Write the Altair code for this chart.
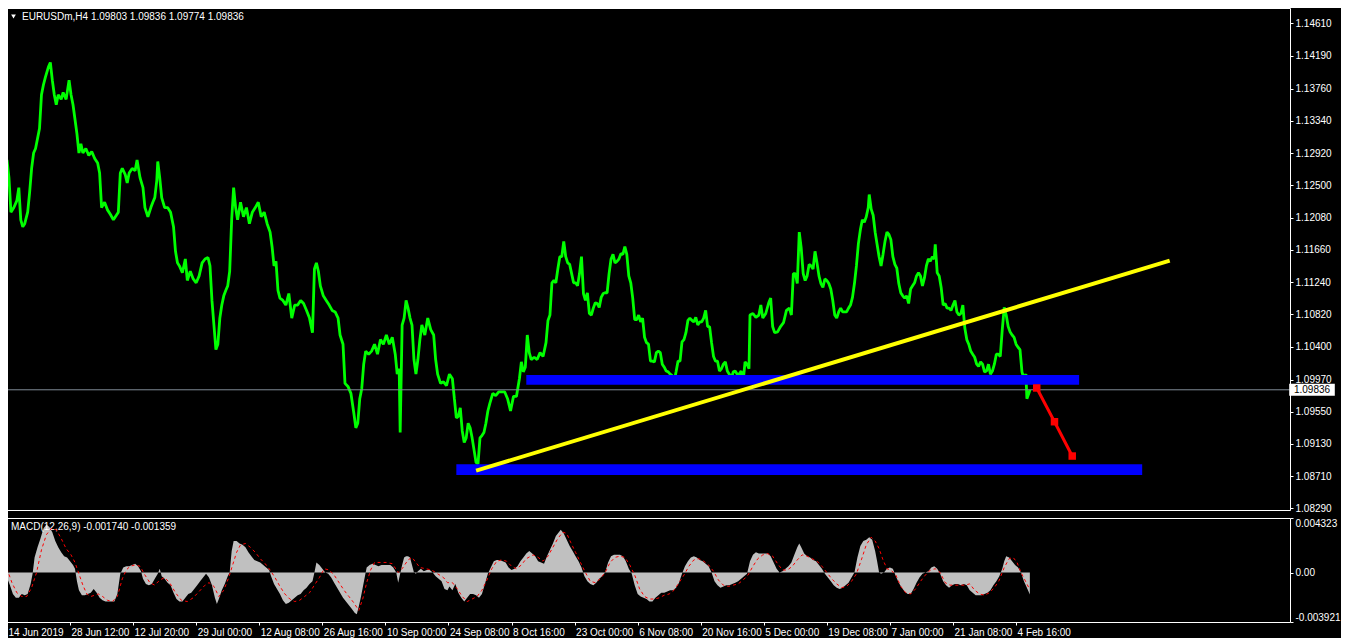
import altair as alt
import pandas as pd

# ---------------- texts ----------------
HEADER = "EURUSDm,H4  1.09803 1.09836 1.09774 1.09836"
MACD_HEADER = "MACD(12,26,9) -0.001740 -0.001359"
CURRENT_PRICE = 1.09836
CURRENT_LABEL = "1.09836"

# ---------------- axes ----------------
PRICE_TICKS = [1.08290, 1.08710, 1.09130, 1.09550, 1.09970, 1.10400, 1.10820, 1.11240,
               1.11660, 1.12080, 1.12500, 1.12920, 1.13340, 1.13760, 1.14190, 1.14610]
MACD_TICKS = [-0.003921, 0.0, 0.004323]
DATE_TICKS = [3, 67, 131, 195, 259, 323, 387, 451, 515, 579, 643, 707, 771, 835, 899, 963, 1027]
DATE_LABELS = ["14 Jun 2019", "28 Jun 12:00", "12 Jul 20:00", "29 Jul 00:00", "12 Aug 08:00",
               "26 Aug 16:00", "10 Sep 00:00", "24 Sep 08:00", "8 Oct 16:00", "23 Oct 00:00",
               "6 Nov 08:00", "20 Nov 16:00", "5 Dec 00:00", "19 Dec 08:00", "7 Jan 00:00",
               "21 Jan 08:00", "4 Feb 16:00"]
BAR_DOMAIN = [2, 1305]
PRICE_DOMAIN = [1.0827, 1.1481]
MACD_DOMAIN = [-0.003921, 0.004323]

# ---------------- drawings ----------------
ZONE_START = [530, 459]
ZONE_END = [1091, 1155]
ZONE_TOP = [1.10029, 1.08867]
ZONE_BOTTOM = [1.09902, 1.08727]

TREND_BAR = [481, 1181]
TREND_PRICE = [1.08790, 1.11511]

FORECAST_BAR = [1048, 1066, 1084]
FORECAST_PRICE = [1.09860, 1.09420, 1.08973]

# ---------------- price (bar, close) ----------------
PRICE_TRACE = [
    (3, 1.1283), (5, 1.1260), (7, 1.1215), (10, 1.1221), (13, 1.1230), (15, 1.1247), (17, 1.1205), (19, 1.1196), (21, 1.1200), (24, 1.1215),
    (26, 1.1241), (28, 1.1272), (30, 1.1292), (32, 1.1298), (34, 1.1311), (36, 1.1324), (38, 1.1368), (40, 1.1381), (42, 1.1391), (45, 1.1404),
    (47, 1.1410), (49, 1.1387), (51, 1.1368), (53, 1.1355), (55, 1.1368), (58, 1.1362), (60, 1.1371), (63, 1.1362), (66, 1.1387), (68, 1.1368),
    (70, 1.1355), (72, 1.1336), (74, 1.1317), (76, 1.1292), (78, 1.1304), (80, 1.1292), (83, 1.1298), (86, 1.1289), (89, 1.1294), (92, 1.1285),
    (95, 1.1279), (97, 1.1266), (99, 1.1221), (102, 1.1228), (105, 1.1218), (108, 1.1212), (111, 1.1205), (113, 1.1209), (116, 1.1215), (118, 1.1266),
    (120, 1.1272), (123, 1.1264), (125, 1.1253), (127, 1.1266), (130, 1.1272), (133, 1.1269), (135, 1.1283), (138, 1.1260), (141, 1.1247), (143, 1.1221),
    (146, 1.1209), (149, 1.1221), (151, 1.1228), (153, 1.1234), (155, 1.1256), (156, 1.1281), (158, 1.1260), (160, 1.1234), (163, 1.1221), (166, 1.1221),
    (169, 1.1215), (172, 1.1196), (174, 1.1164), (176, 1.1149), (178, 1.1145), (181, 1.1136), (184, 1.1154), (186, 1.1126), (189, 1.1138), (192, 1.1128),
    (195, 1.1123), (198, 1.1132), (201, 1.1149), (204, 1.1154), (207, 1.1156), (209, 1.1145), (211, 1.1100), (213, 1.1068), (215, 1.1036), (217, 1.1043),
    (219, 1.1077), (221, 1.1094), (223, 1.1106), (225, 1.1113), (227, 1.1119), (229, 1.1138), (231, 1.1205), (233, 1.1247), (235, 1.1221), (237, 1.1205),
    (240, 1.1228), (243, 1.1209), (246, 1.1221), (249, 1.1200), (252, 1.1215), (255, 1.1221), (258, 1.1228), (261, 1.1209), (264, 1.1215), (267, 1.1200),
    (270, 1.1189), (272, 1.1170), (274, 1.1145), (276, 1.1151), (278, 1.1113), (280, 1.1103), (283, 1.1100), (286, 1.1094), (289, 1.1109), (292, 1.1077),
    (295, 1.1094), (298, 1.1094), (301, 1.1100), (304, 1.1096), (307, 1.1087), (310, 1.1077), (313, 1.1058), (315, 1.1141), (317, 1.1149), (319, 1.1138),
    (321, 1.1119), (324, 1.1106), (327, 1.1100), (330, 1.1094), (333, 1.1087), (336, 1.1085), (339, 1.1077), (341, 1.1055), (344, 1.1043), (346, 1.0992),
    (349, 1.0988), (352, 1.0979), (355, 1.0953), (357, 1.0934), (359, 1.0940), (361, 1.0972), (363, 1.0985), (365, 1.1017), (367, 1.1034), (370, 1.1030),
    (373, 1.1034), (376, 1.1043), (379, 1.1030), (382, 1.1049), (385, 1.1043), (388, 1.1055), (391, 1.1043), (394, 1.1052), (397, 1.1030), (399, 1.1004),
    (401, 1.1011), (402, 1.0928), (404, 1.1068), (406, 1.1077), (408, 1.1100), (410, 1.1090), (412, 1.1077), (414, 1.1068), (416, 1.1023), (418, 1.1004),
    (420, 1.1023), (422, 1.1049), (424, 1.1068), (427, 1.1055), (430, 1.1077), (433, 1.1062), (436, 1.1055), (438, 1.1023), (440, 1.1004), (443, 1.0992),
    (446, 1.0994), (449, 1.0989), (452, 1.1004), (455, 1.0998), (457, 1.0972), (459, 1.0947), (461, 1.0949), (463, 1.0960), (465, 1.0930), (467, 1.0915),
    (469, 1.0921), (471, 1.0940), (473, 1.0934), (475, 1.0921), (477, 1.0905), (479, 1.0889), (481, 1.0887), (483, 1.0921), (485, 1.0924), (487, 1.0928),
    (489, 1.0940), (491, 1.0956), (493, 1.0966), (496, 1.0979), (499, 1.0976), (502, 1.0981), (505, 1.0981), (508, 1.0981), (511, 1.0972), (514, 1.0956),
    (517, 1.0975), (520, 1.0975), (523, 1.0998), (525, 1.1020), (527, 1.1007), (529, 1.1013), (531, 1.1055), (533, 1.1032), (535, 1.1023), (538, 1.1026),
    (541, 1.1023), (544, 1.1032), (547, 1.1027), (550, 1.1045), (552, 1.1074), (554, 1.1081), (556, 1.1123), (558, 1.1126), (560, 1.1123), (562, 1.1141),
    (564, 1.1157), (566, 1.1157), (568, 1.1177), (570, 1.1157), (572, 1.1149), (574, 1.1147), (576, 1.1135), (578, 1.1123), (580, 1.1123), (582, 1.1119),
    (584, 1.1135), (586, 1.1157), (588, 1.1109), (590, 1.1100), (592, 1.1110), (594, 1.1083), (596, 1.1081), (598, 1.1090), (600, 1.1097), (602, 1.1096),
    (604, 1.1091), (606, 1.1104), (608, 1.1109), (610, 1.1110), (612, 1.1110), (614, 1.1135), (616, 1.1154), (618, 1.1160), (620, 1.1149), (622, 1.1151),
    (624, 1.1154), (626, 1.1161), (628, 1.1160), (630, 1.1170), (632, 1.1160), (634, 1.1132), (636, 1.1123), (638, 1.1103), (640, 1.1075), (642, 1.1075),
    (644, 1.1081), (646, 1.1072), (648, 1.1077), (650, 1.1052), (652, 1.1045), (654, 1.1043), (656, 1.1021), (658, 1.1021), (660, 1.1020), (662, 1.1032),
    (664, 1.1034), (666, 1.1032), (668, 1.1017), (670, 1.1013), (672, 1.1008), (674, 1.1007), (676, 1.1004), (678, 1.1002), (680, 1.0994), (682, 1.1007),
    (684, 1.1021), (686, 1.1021), (688, 1.1046), (690, 1.1049), (692, 1.1058), (694, 1.1074), (696, 1.1077), (698, 1.1074), (700, 1.1072), (702, 1.1078),
    (704, 1.1068), (706, 1.1072), (708, 1.1072), (710, 1.1077), (712, 1.1087), (714, 1.1066), (716, 1.1066), (718, 1.1045), (720, 1.1027), (722, 1.1021),
    (724, 1.1021), (726, 1.1008), (728, 1.1011), (730, 1.1017), (732, 1.1020), (734, 1.1008), (736, 1.1004), (738, 1.0998), (740, 1.1007), (742, 1.1008),
    (744, 1.1004), (746, 1.1004), (748, 1.1008), (750, 1.0994), (752, 1.1020), (754, 1.1017), (756, 1.1011), (757, 1.1081), (760, 1.1083), (763, 1.1078),
    (766, 1.1081), (768, 1.1094), (770, 1.1077), (773, 1.1083), (776, 1.1097), (778, 1.1103), (780, 1.1066), (782, 1.1058), (785, 1.1059), (788, 1.1066),
    (791, 1.1071), (794, 1.1087), (797, 1.1090), (799, 1.1081), (801, 1.1135), (803, 1.1135), (805, 1.1122), (807, 1.1189), (809, 1.1168), (811, 1.1135),
    (813, 1.1126), (815, 1.1132), (817, 1.1147), (819, 1.1145), (821, 1.1141), (823, 1.1164), (825, 1.1149), (827, 1.1132), (829, 1.1122), (831, 1.1117),
    (833, 1.1128), (835, 1.1126), (837, 1.1122), (839, 1.1115), (841, 1.1100), (843, 1.1081), (845, 1.1077), (847, 1.1085), (849, 1.1090), (851, 1.1085),
    (853, 1.1085), (855, 1.1085), (857, 1.1090), (859, 1.1094), (861, 1.1104), (863, 1.1122), (865, 1.1145), (867, 1.1174), (869, 1.1192), (871, 1.1205),
    (873, 1.1202), (875, 1.1209), (877, 1.1221), (878, 1.1238), (880, 1.1219), (882, 1.1211), (884, 1.1189), (886, 1.1173), (888, 1.1157), (890, 1.1145),
    (892, 1.1160), (894, 1.1177), (896, 1.1189), (898, 1.1186), (900, 1.1179), (902, 1.1157), (904, 1.1147), (906, 1.1142), (908, 1.1122), (910, 1.1110),
    (912, 1.1106), (914, 1.1103), (916, 1.1106), (918, 1.1096), (920, 1.1115), (922, 1.1119), (924, 1.1123), (926, 1.1132), (928, 1.1136), (930, 1.1132),
    (932, 1.1119), (934, 1.1129), (936, 1.1145), (938, 1.1154), (940, 1.1151), (942, 1.1157), (944, 1.1154), (945, 1.1173), (947, 1.1136), (949, 1.1132),
    (951, 1.1117), (953, 1.1094), (955, 1.1096), (957, 1.1090), (959, 1.1090), (961, 1.1087), (963, 1.1094), (965, 1.1100), (967, 1.1085), (969, 1.1081),
    (971, 1.1083), (973, 1.1094), (975, 1.1064), (977, 1.1049), (979, 1.1043), (981, 1.1034), (983, 1.1030), (985, 1.1026), (987, 1.1017), (989, 1.1014),
    (991, 1.1020), (993, 1.1017), (995, 1.1007), (997, 1.1008), (999, 1.1017), (1001, 1.1004), (1003, 1.1008), (1005, 1.1017), (1007, 1.1030), (1009, 1.1030),
    (1011, 1.1027), (1013, 1.1062), (1015, 1.1091), (1017, 1.1081), (1019, 1.1066), (1021, 1.1059), (1023, 1.1055), (1025, 1.1052), (1027, 1.1043), (1029, 1.1039),
    (1031, 1.1036), (1033, 1.1007), (1035, 1.0998), (1037, 1.1004), (1038, 1.0972), (1040, 1.0979), (1041, 1.09836),
]

# ---------------- MACD histogram (bar, value) ----------------
MACD_HIST = [
    (3, -0.0004), (6, -0.0010), (9, -0.0017), (12, -0.0020), (15, -0.0020), (18, -0.0017), (21, -0.0018), (24, -0.0017), (27, -0.0009), (29, -0.0001),
    (31, 0.0012), (34, 0.0020), (37, 0.0027), (40, 0.0035), (43, 0.0038), (46, 0.0036), (49, 0.0032), (52, 0.0025), (55, 0.0020), (58, 0.0016),
    (61, 0.0013), (64, 0.0012), (67, 0.0009), (70, 0.0006), (72, 0.0003), (74, -0.0007), (76, -0.0014), (79, -0.0018), (82, -0.0018), (85, -0.0017),
    (88, -0.0016), (91, -0.0013), (94, -0.0016), (97, -0.0020), (100, -0.0022), (103, -0.0023), (106, -0.0023), (109, -0.0023), (112, -0.0023), (115, -0.0017),
    (118, -0.0001), (121, 0.0004), (124, 0.0005), (127, 0.0005), (130, 0.0006), (133, 0.0007), (136, 0.0005), (139, 0.0001), (141, -0.0005), (144, -0.0009),
    (147, -0.0010), (150, -0.0009), (153, -0.0005), (156, -0.0001), (158, 0.0003), (160, -0.0003), (163, -0.0005), (166, -0.0008), (169, -0.0010), (172, -0.0016),
    (175, -0.0021), (178, -0.0023), (181, -0.0023), (184, -0.0020), (187, -0.0017), (190, -0.0016), (193, -0.0013), (196, -0.0010), (199, -0.0007), (202, -0.0004),
    (205, -0.0001), (208, -0.0004), (211, -0.0010), (214, -0.0020), (216, -0.0025), (218, -0.0021), (221, -0.0014), (224, -0.0009), (227, -0.0003), (229, 0.0000),
    (231, 0.0017), (233, 0.0025), (236, 0.0025), (239, 0.0023), (242, 0.0022), (245, 0.0020), (248, 0.0016), (251, 0.0013), (254, 0.0010), (257, 0.0009),
    (260, 0.0008), (263, 0.0006), (266, 0.0004), (269, 0.0002), (271, -0.0003), (274, -0.0009), (277, -0.0013), (280, -0.0017), (283, -0.0022), (286, -0.0025),
    (289, -0.0024), (292, -0.0022), (295, -0.0020), (298, -0.0018), (301, -0.0017), (304, -0.0014), (307, -0.0012), (310, -0.0009), (313, -0.0007), (315, 0.0000),
    (317, 0.0008), (320, 0.0006), (323, 0.0003), (326, 0.0000), (329, -0.0001), (332, -0.0004), (335, -0.0008), (338, -0.0012), (341, -0.0016), (344, -0.0020),
    (347, -0.0023), (350, -0.0026), (353, -0.0029), (356, -0.0032), (358, -0.0033), (360, -0.0027), (362, -0.0020), (364, -0.0012), (366, -0.0004), (368, 0.0004),
    (371, 0.0006), (374, 0.0007), (377, 0.0006), (380, 0.0005), (383, 0.0006), (386, 0.0006), (389, 0.0006), (392, 0.0006), (395, 0.0004), (398, 0.0000),
    (400, -0.0008), (402, -0.0001), (404, 0.0006), (406, 0.0012), (408, 0.0013), (410, 0.0013), (412, 0.0012), (414, 0.0006), (416, 0.0000), (418, -0.0001),
    (420, 0.0001), (423, 0.0003), (426, 0.0001), (429, 0.0002), (432, 0.0002), (435, 0.0000), (438, -0.0003), (441, -0.0005), (444, -0.0007), (447, -0.0013),
    (450, -0.0014), (452, -0.0011), (455, -0.0014), (458, -0.0009), (461, -0.0016), (464, -0.0020), (467, -0.0023), (470, -0.0020), (473, -0.0017), (476, -0.0017),
    (479, -0.0018), (482, -0.0020), (485, -0.0017), (488, -0.0009), (491, -0.0001), (494, 0.0004), (497, 0.0009), (500, 0.0010), (503, 0.0010), (506, 0.0009),
    (509, 0.0008), (512, 0.0004), (515, 0.0002), (518, 0.0003), (521, 0.0005), (524, 0.0009), (527, 0.0012), (530, 0.0015), (533, 0.0017), (536, 0.0015),
    (539, 0.0013), (542, 0.0009), (545, 0.0008), (548, 0.0007), (551, 0.0013), (554, 0.0018), (557, 0.0023), (560, 0.0029), (563, 0.0032), (565, 0.0034),
    (568, 0.0031), (571, 0.0026), (574, 0.0021), (577, 0.0017), (580, 0.0013), (583, 0.0009), (586, 0.0004), (589, -0.0003), (592, -0.0007), (595, -0.0009),
    (598, -0.0010), (601, -0.0008), (604, -0.0005), (607, -0.0003), (610, 0.0000), (613, 0.0008), (616, 0.0013), (619, 0.0014), (622, 0.0014), (625, 0.0014),
    (628, 0.0013), (631, 0.0009), (634, 0.0003), (637, -0.0001), (640, -0.0010), (643, -0.0017), (646, -0.0019), (649, -0.0020), (652, -0.0021), (655, -0.0023),
    (658, -0.0023), (661, -0.0020), (664, -0.0018), (667, -0.0016), (670, -0.0016), (673, -0.0015), (676, -0.0014), (679, -0.0014), (682, -0.0012), (685, -0.0008),
    (688, -0.0001), (691, 0.0005), (694, 0.0009), (697, 0.0012), (700, 0.0013), (703, 0.0012), (706, 0.0010), (709, 0.0009), (712, 0.0007), (715, 0.0005),
    (718, 0.0000), (721, -0.0007), (724, -0.0010), (727, -0.0012), (730, -0.0011), (733, -0.0010), (736, -0.0010), (739, -0.0009), (742, -0.0008), (745, -0.0007),
    (748, -0.0005), (751, -0.0003), (754, -0.0001), (757, 0.0009), (760, 0.0014), (763, 0.0016), (766, 0.0015), (769, 0.0015), (772, 0.0015), (775, 0.0015),
    (778, 0.0013), (781, 0.0008), (784, 0.0003), (787, 0.0000), (790, 0.0001), (793, 0.0003), (796, 0.0005), (799, 0.0008), (802, 0.0014), (805, 0.0020),
    (807, 0.0023), (809, 0.0020), (812, 0.0015), (815, 0.0013), (818, 0.0012), (821, 0.0010), (824, 0.0009), (827, 0.0006), (830, 0.0003), (833, -0.0001),
    (836, -0.0004), (839, -0.0007), (842, -0.0010), (845, -0.0012), (848, -0.0013), (851, -0.0012), (854, -0.0010), (857, -0.0008), (860, -0.0004), (863, 0.0000),
    (866, 0.0012), (869, 0.0021), (872, 0.0025), (875, 0.0026), (878, 0.0028), (881, 0.0026), (884, 0.0017), (886, 0.0009), (888, 0.0000), (890, -0.0001),
    (893, 0.0000), (896, 0.0003), (899, 0.0004), (902, 0.0003), (905, -0.0003), (908, -0.0008), (911, -0.0012), (914, -0.0015), (917, -0.0017), (920, -0.0017),
    (923, -0.0013), (926, -0.0008), (929, -0.0004), (932, -0.0001), (935, 0.0000), (938, 0.0001), (941, 0.0004), (944, 0.0005), (947, 0.0003), (950, -0.0001),
    (953, -0.0007), (956, -0.0010), (959, -0.0012), (962, -0.0010), (965, -0.0009), (968, -0.0009), (971, -0.0010), (974, -0.0009), (977, -0.0010), (980, -0.0014),
    (983, -0.0016), (986, -0.0018), (989, -0.0018), (992, -0.0018), (995, -0.0017), (998, -0.0016), (1001, -0.0014), (1004, -0.0010), (1007, -0.0007), (1010, -0.0003),
    (1013, 0.0003), (1015, 0.0009), (1017, 0.0013), (1020, 0.0012), (1023, 0.0009), (1026, 0.0006), (1029, 0.0004), (1032, 0.0000), (1035, -0.0007), (1038, -0.0012),
    (1041, -0.00174),
]

# ---------------- MACD signal (bar, value) ----------------
MACD_SIGNAL = [
    (3, 0.0003), (8, -0.0008), (13, -0.0016), (18, -0.0019), (23, -0.0019), (28, -0.0012), (33, 0.0000), (38, 0.0018), (43, 0.0030), (48, 0.0035),
    (53, 0.0034), (58, 0.0027), (63, 0.0019), (68, 0.0014), (72, 0.0008), (76, -0.0001), (80, -0.0010), (84, -0.0017), (88, -0.0019), (92, -0.0018),
    (96, -0.0017), (100, -0.0019), (105, -0.0022), (110, -0.0023), (115, -0.0019), (120, -0.0005), (124, 0.0002), (128, 0.0005), (133, 0.0006), (138, 0.0005),
    (143, -0.0002), (148, -0.0008), (153, -0.0010), (158, -0.0006), (163, -0.0004), (168, -0.0008), (174, -0.0016), (180, -0.0022), (186, -0.0023), (192, -0.0020),
    (198, -0.0015), (204, -0.0010), (208, -0.0008), (213, -0.0011), (218, -0.0019), (223, -0.0014), (228, -0.0004), (232, 0.0006), (236, 0.0016), (240, 0.0022),
    (245, 0.0023), (250, 0.0020), (255, 0.0016), (260, 0.0011), (265, 0.0007), (270, 0.0002), (275, -0.0004), (280, -0.0011), (285, -0.0017), (290, -0.0021),
    (295, -0.0023), (300, -0.0022), (305, -0.0019), (310, -0.0016), (315, -0.0010), (320, -0.0004), (325, 0.0003), (330, 0.0002), (335, -0.0002), (340, -0.0008),
    (345, -0.0014), (350, -0.0019), (355, -0.0024), (360, -0.0030), (364, -0.0021), (368, -0.0008), (372, 0.0002), (376, 0.0008), (382, 0.0008), (388, 0.0008),
    (394, 0.0007), (400, 0.0000), (404, 0.0003), (410, 0.0010), (414, 0.0012), (418, 0.0008), (422, 0.0004), (428, 0.0003), (434, 0.0002), (440, -0.0001),
    (446, -0.0004), (450, -0.0008), (455, -0.0008), (460, -0.0013), (465, -0.0019), (470, -0.0023), (475, -0.0021), (480, -0.0019), (485, -0.0014), (490, -0.0006),
    (495, 0.0003), (500, 0.0009), (505, 0.0010), (510, 0.0009), (515, 0.0005), (520, 0.0003), (525, 0.0006), (530, 0.0011), (537, 0.0014), (542, 0.0012),
    (547, 0.0009), (552, 0.0013), (557, 0.0020), (562, 0.0027), (567, 0.0032), (571, 0.0031), (575, 0.0024), (580, 0.0016), (585, 0.0008), (590, 0.0000),
    (595, -0.0007), (600, -0.0008), (605, -0.0005), (610, 0.0000), (615, 0.0008), (620, 0.0012), (625, 0.0013), (630, 0.0012), (635, 0.0006), (640, -0.0002),
    (645, -0.0013), (650, -0.0019), (655, -0.0021), (660, -0.0021), (665, -0.0020), (670, -0.0018), (675, -0.0017), (680, -0.0014), (685, -0.0008), (690, -0.0002),
    (695, 0.0005), (700, 0.0010), (705, 0.0011), (710, 0.0009), (715, 0.0006), (720, 0.0001), (725, -0.0006), (730, -0.0010), (735, -0.0011), (740, -0.0010),
    (745, -0.0009), (750, -0.0006), (755, -0.0002), (760, 0.0005), (765, 0.0011), (770, 0.0014), (775, 0.0015), (780, 0.0013), (785, 0.0007), (790, 0.0002),
    (795, 0.0002), (800, 0.0005), (805, 0.0010), (810, 0.0014), (815, 0.0013), (820, 0.0011), (825, 0.0009), (830, 0.0005), (835, 0.0000), (840, -0.0005),
    (845, -0.0009), (850, -0.0012), (855, -0.0011), (860, -0.0007), (865, -0.0001), (870, 0.0010), (875, 0.0022), (880, 0.0028), (884, 0.0025), (888, 0.0019),
    (892, 0.0010), (896, 0.0003), (900, 0.0002), (905, -0.0002), (910, -0.0011), (915, -0.0016), (920, -0.0017), (925, -0.0013), (930, -0.0007), (935, -0.0002),
    (940, 0.0002), (945, 0.0003), (950, 0.0000), (955, -0.0008), (960, -0.0010), (965, -0.0010), (970, -0.0010), (975, -0.0010), (980, -0.0009), (985, -0.0014),
    (990, -0.0017), (995, -0.0018), (1000, -0.0016), (1005, -0.0012), (1010, -0.0006), (1015, 0.0004), (1020, 0.0011), (1024, 0.0012), (1028, 0.0008), (1032, 0.0000),
    (1036, -0.0006), (1041, -0.001359),
]

# ---------------- layout / style ----------------
W = 1284
H_MAIN = 502
H_MACD = 104
FONT = "Liberation Sans"
FS = 10
BOX_PATH = "M-3.8,-1L3.8,-1L3.8,1L-3.8,1Z"

xs = alt.Scale(domain=BAR_DOMAIN, nice=False, zero=False)
ys = alt.Scale(domain=PRICE_DOMAIN, nice=False, zero=False)
ms = alt.Scale(domain=MACD_DOMAIN, nice=False, zero=False)

price_df = pd.DataFrame(PRICE_TRACE, columns=["bar", "price"])
zones_df = pd.DataFrame({"b1": ZONE_START, "b2": ZONE_END, "top": ZONE_TOP, "bot": ZONE_BOTTOM})
trend_df = pd.DataFrame({"bar": TREND_BAR, "price": TREND_PRICE})
fc_df = pd.DataFrame({"bar": FORECAST_BAR, "price": FORECAST_PRICE})
cur_df = pd.DataFrame({"price": [CURRENT_PRICE], "label": [CURRENT_LABEL]})
hdr_df = pd.DataFrame({"t": [HEADER]})
one_df = pd.DataFrame({"a": [0]})
hist_df = pd.DataFrame(MACD_HIST, columns=["bar", "v"])
sig_df = pd.DataFrame(MACD_SIGNAL, columns=["bar", "s"])
mhdr_df = pd.DataFrame({"t": [MACD_HEADER]})

price_axis = alt.Axis(orient="right", values=PRICE_TICKS, format=".5f", title=None,
                      tickSize=3, labelPadding=2, labelOverlap=False, domain=False, grid=False,
                      labelColor="white", tickColor="white", labelFont=FONT, labelFontSize=FS)

date_expr = ("[" + ",".join("'%s'" % s for s in DATE_LABELS) + "][indexof(["
             + ",".join(str(t) for t in DATE_TICKS) + "], datum.value)]")

x_axis = alt.Axis(orient="bottom", values=DATE_TICKS, labelExpr=date_expr, title=None,
                  tickSize=3, labelPadding=2, labelAlign="left", labelOffset=1,
                  labelOverlap=False, labelFlush=False, domain=False, grid=False,
                  labelColor="white", tickColor="white", labelFont=FONT, labelFontSize=FS)

macd_axis = alt.Axis(orient="right", values=MACD_TICKS, title=None, tickSize=3, labelPadding=2,
                     labelFlush=True, labelOverlap=False, domain=False, grid=False,
                     labelColor="white", tickColor="white", labelFont=FONT, labelFontSize=FS,
                     labelExpr="datum.value == 0 ? '0.00' : (datum.value < 0 ? '-' + format(-datum.value, '.6f') : format(datum.value, '.6f'))")

# main panel: x positions share one scale; x axis hidden, y axis on the right
def X(field):
    return alt.X(field, scale=xs, axis=None)

def Y(field):
    return alt.Y(field, scale=ys, axis=price_axis)

price_line = alt.Chart(price_df).mark_line(color="#00FF00", strokeWidth=2.8, strokeJoin="bevel").encode(
    x=X("bar:Q"), y=Y("price:Q"))

cur_rule = alt.Chart(cur_df).mark_rule(color="#7f8b96", strokeWidth=1).encode(y=Y("price:Q"))

zones = alt.Chart(zones_df).mark_rect(color="#0000FF", opacity=1).encode(
    x=X("b1:Q"), x2="b2:Q", y=Y("top:Q"), y2="bot:Q")

trend = alt.Chart(trend_df).mark_line(color="#FFFF00", strokeWidth=4, strokeCap="square").encode(
    x=X("bar:Q"), y=Y("price:Q"))

fc_line = alt.Chart(fc_df).mark_line(color="#FF0000", strokeWidth=3).encode(
    x=X("bar:Q"), y=Y("price:Q"))
fc_pts = alt.Chart(fc_df).mark_point(shape="square", filled=True, size=56, color="#FF0000", opacity=1).encode(
    x=X("bar:Q"), y=Y("price:Q"))

cur_box = alt.Chart(cur_df).mark_point(shape=BOX_PATH, size=144, filled=True, color="white",
                                       opacity=1, strokeWidth=0).encode(
    x=alt.value(W + 22), y=Y("price:Q"))
cur_txt = alt.Chart(cur_df).mark_text(color="black", font=FONT, fontSize=FS, align="center",
                                      baseline="middle").encode(
    x=alt.value(W + 22), y=Y("price:Q"), text="label:N")

tri = alt.Chart(one_df).mark_point(shape="triangle-down", filled=True, size=22, color="white", opacity=1).encode(
    x=alt.value(7.5), y=alt.value(8.5))
hdr = alt.Chart(hdr_df).mark_text(color="white", font=FONT, fontSize=FS, align="left", baseline="middle").encode(
    x=alt.value(16), y=alt.value(9), text="t:N")

main = alt.layer(price_line, cur_rule, zones, trend, fc_line, fc_pts, cur_box, cur_txt, tri, hdr).properties(
    width=W, height=H_MAIN)

# MACD panel
hist = alt.Chart(hist_df).mark_area(color="#C0C0C0", opacity=1).encode(
    x=alt.X("bar:Q", scale=xs, axis=x_axis),
    y=alt.Y("v:Q", scale=ms, axis=macd_axis),
    y2=alt.datum(0))

sig = alt.Chart(sig_df).mark_line(color="#FF0000", strokeWidth=1, strokeDash=[3, 3]).encode(
    x=alt.X("bar:Q", scale=xs, axis=x_axis), y=alt.Y("s:Q", scale=ms, axis=macd_axis))

mhdr = alt.Chart(mhdr_df).mark_text(color="white", font=FONT, fontSize=FS, align="left", baseline="middle").encode(
    x=alt.value(5), y=alt.value(9), text="t:N")

macd = alt.layer(hist, mhdr, sig).properties(width=W, height=H_MACD)

chart = alt.vconcat(main, macd, spacing=3).properties(
    padding={"left": -4, "top": -1, "right": 0, "bottom": 0}, background="black"
).configure_view(
    stroke="white", strokeWidth=1
).configure_axis(
    labelColor="white", tickColor="white", labelFont=FONT, labelFontSize=FS, domain=False, grid=False
)

chart.save("out.html", embed_options={"renderer": "svg", "actions": False})
